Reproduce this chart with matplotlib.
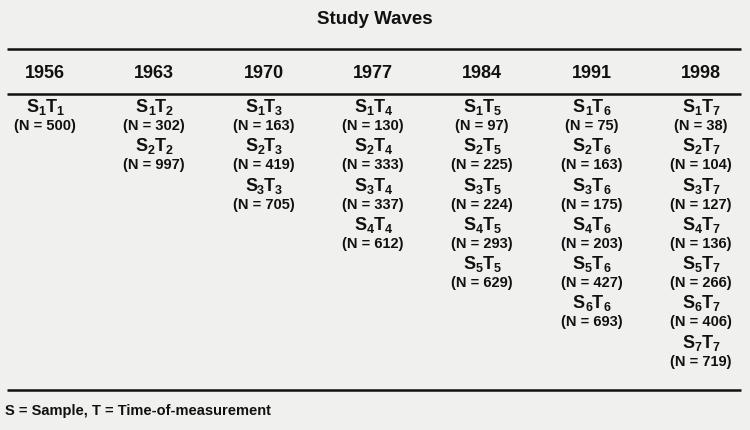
import matplotlib
matplotlib.use("Agg")
import matplotlib.pyplot as plt

plt.rcParams['font.family'] = ['Liberation Sans', 'DejaVu Sans']

# study waves and the sample sizes measured at each wave (sample 1..k)
years = [1956, 1963, 1970, 1977, 1984, 1991, 1998]
n_values = [
    [500],
    [302, 997],
    [163, 419, 705],
    [130, 333, 337, 612],
    [97, 225, 224, 293, 629],
    [75, 163, 175, 203, 427, 693],
    [38, 104, 127, 136, 266, 406, 719],
]

title = "Study Waves"
footnote = "S = Sample, T = Time-of-measurement"

bg = '#f0f0ee'
ink = '#111111'

fig = plt.figure(figsize=(7.5, 4.31), dpi=100, facecolor=bg)
ax = fig.add_axes([0, 0, 1, 1])
ax.set_facecolor(bg)
ax.set_xlim(0, 750)
ax.set_ylim(431, 0)
ax.axis('off')
renderer = fig.canvas.get_renderer()

col_x0, col_dx = 45, 109.3
row_y0, row_dy = 105, 39.3
big, small, drop = 13, 9, 3


def text_width(s, size):
    t = ax.text(0, 0, s, fontsize=size, fontweight='bold')
    w = t.get_window_extent(renderer).width
    t.remove()
    return w


def draw_label(x, y, s, t):
    # S_s T_t with bold subscripts, centred on x, baseline at y
    parts = [('S', big, 0), (str(s), small, drop), ('T', big, 0), (str(t), small, drop)]
    widths = [text_width(p, sz) for p, sz, _ in parts]
    cx = x - sum(widths) / 2
    for (p, sz, dy), w in zip(parts, widths):
        ax.text(cx, y + dy, p, fontsize=sz, fontweight='bold', color=ink,
                ha='left', va='baseline')
        cx += w


ax.text(375, 20, title, ha='center', va='center', fontsize=13.5, fontweight='bold', color=ink)

# rules
for y in (50, 95, 391):
    ax.plot([7, 741], [y, y], color=ink, lw=1.8, solid_capstyle='butt')

for i, (year, ns) in enumerate(zip(years, n_values)):
    x = col_x0 + i * col_dx
    ax.text(x, 73, str(year), ha='center', va='center', fontsize=13, fontweight='bold', color=ink)
    t = i + 1
    for j, n in enumerate(ns):
        s = j + 1
        y = row_y0 + j * row_dy
        draw_label(x, y + 7, s, t)
        ax.text(x, y + 21, '(N = %d)' % n, ha='center', va='center', fontsize=10.5,
                fontweight='bold', color=ink)

ax.text(5, 411, footnote, ha='left', va='center', fontsize=10.5, fontweight='bold', color=ink)

fig.savefig('out.png', dpi=100, facecolor=bg)
